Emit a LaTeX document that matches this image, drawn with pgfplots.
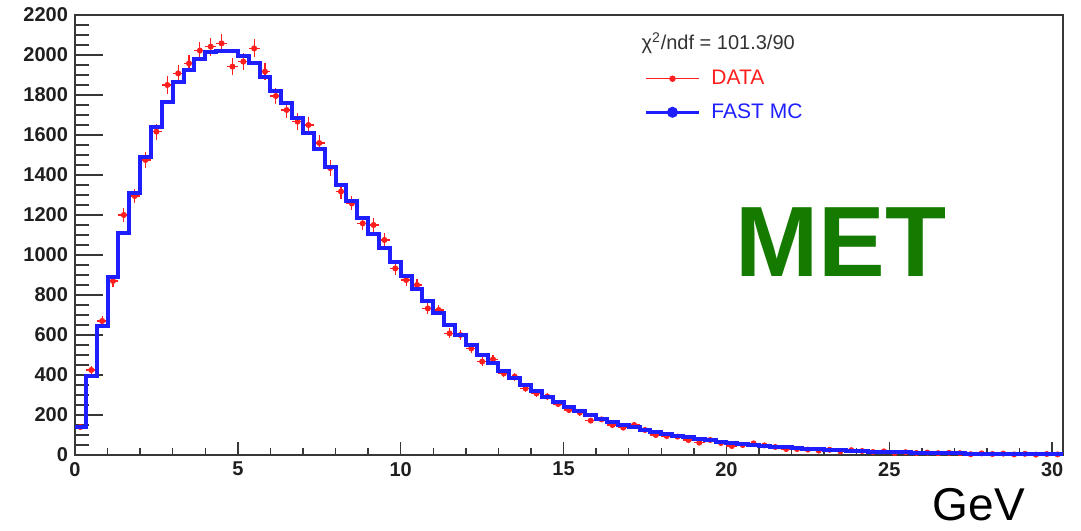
\documentclass[border=0pt]{standalone}
\usepackage{fontspec}
\setmainfont{Liberation Sans}
\usepackage{pgfplots}
\usepackage{pgfplotstable}
\pgfplotsset{compat=1.18}
\definecolor{metgreen}{RGB}{20,122,0}
\definecolor{rootblue}{RGB}{30,30,255}
\definecolor{rootred}{RGB}{255,30,30}
\definecolor{axisgray}{RGB}{55,55,55}

\pgfplotstableread{
x mc data err
0 140 nan 0
0.1667 140 140 12
0.5 395 425 21
0.8333 645 670 26
1.1667 890 870 29
1.5 1112 1200 35
1.8333 1312 1295 36
2.1667 1492 1475 38
2.5 1642 1617 40
2.8333 1767 1850 43
3.1667 1867 1908 44
3.5 1925 1958 44
3.8333 1978 2022 45
4.1667 2017 2042 45
4.5 2022 2058 45
4.8333 2020 1942 44
5.1667 1995 1967 44
5.5 1958 2033 45
5.8333 1890 1917 44
6.1667 1822 1795 42
6.5 1760 1725 42
6.8333 1683 1667 41
7.1667 1608 1650 41
7.5 1528 1560 39
7.8333 1440 1435 38
8.1667 1352 1317 36
8.5 1268 1258 35
8.8333 1185 1158 34
9.1667 1105 1150 34
9.5 1035 1075 33
9.8333 965 933 31
10.1667 895 875 30
10.5 830 850 29
10.8333 770 733 27
11.1667 710 725 27
11.5 652 608 25
11.8333 598 600 24
12.1667 548 533 23
12.5 502 467 22
12.8333 460 478 22
13.1667 420 408 20
13.5 383 392 20
13.8333 350 333 18
14.1667 318 308 18
14.5 290 292 17
14.8333 264 255 16
15.1667 240 225 15
15.5 218 212 15
15.8333 198 172 13
16.1667 180 178 13
16.5 163 150 12
16.8333 148 137 12
17.1667 138 150 12
17.5 126 125 11
17.8333 116 100 10
18.1667 106 95 10
18.5 97 92 10
18.8333 89 75 9
19.1667 81 62 8
19.5 74 75 9
19.8333 67 60 8
20.1667 61 45 7
20.5 56 50 7
20.8333 51 58 8
21.1667 46 48 7
21.5 42 40 6
21.8333 38 30 5.5
22.1667 34 30 5.5
22.5 31 27 5
22.8333 28 22 5
23.1667 25 26 5
23.5 23 18 4
23.8333 21 24 5
24.1667 19 20 4.5
24.5 17 15 4
24.8333 15 18 4
25.1667 14 10 3
25.5 13 14 4
25.8333 12 10 3
26.1667 11 12 3.5
26.5 10 9 3
26.8333 9 11 3.3
27.1667 8 9 3
27.5 7 4 2
27.8333 6.5 8 3
28.1667 6 5 2.2
28.5 5.5 7 2.6
28.8333 5 3 1.7
29.1667 4.5 6 2.4
29.5 4 2 1.4
29.8333 3.7 5 2.2
30.1667 3.4 3 1.7
30.3333 3.4 nan 0
}\met

\begin{document}
\begin{tikzpicture}
\begin{axis}[
  at={(0,0)}, anchor=south west,
  scale only axis, width=494pt, height=220pt,
  xmin=0, xmax=30.3333, ymin=0, ymax=2200,
  clip mode=individual,
  xtick={0,5,...,30}, ytick={0,200,...,2200},
  minor x tick num=4, minor y tick num=3,
  tick align=inside, tick pos=left,
  axis line style={axisgray, line width=0.9pt},
  every tick/.style={axisgray, line width=0.7pt},
  major x tick style={/pgfplots/major tick length=6.5pt},
  minor x tick style={/pgfplots/minor tick length=3.3pt},
  major y tick style={/pgfplots/major tick length=14pt},
  minor y tick style={/pgfplots/minor tick length=7pt},
  /pgf/number format/assume math mode=true,
  scaled y ticks=false,
  yticklabel style={/pgf/number format/1000 sep={}},
  ticklabel style={font=\bfseries\fontsize{10}{12}\selectfont, text=black!88},
  legend style={draw=none, fill=none, at={(rel axis cs:0.576,0.885)}, anchor=north west,
    font=\fontsize{10.5}{12}\selectfont, row sep=4pt, inner sep=0pt},
  legend cell align=left,
]
\addplot[only marks, mark=*, mark size=1.3pt, rootred,
  legend image code/.code={\draw[rootred, line width=0.6pt] (0pt,0pt) -- (26.5pt,0pt); \fill[rootred] (13.25pt,0pt) circle (1.4pt);},
  error bars/.cd, y dir=both, y explicit, x dir=both, x fixed=0.1667,
  error bar style={line width=0.6pt, rootred}, error mark=none]
  table[x=x, y=data, y error=err] {\met};
\addlegendentry{\hspace*{3.5pt}\textcolor{rootred}{DATA}}
\addplot[const plot mark mid, rootblue, line width=2pt, no marks,
  legend image code/.code={\draw[rootblue, line width=1.5pt] (0pt,0pt) -- (26.5pt,0pt); \fill[rootblue] (13.25pt,0pt) circle (1.7pt);}]
  table[x=x, y=mc] {\met};
\addlegendentry{\hspace*{3.5pt}\textcolor{rootblue}{FAST MC}}
\node[anchor=west, inner sep=0pt, text=black!80, font=\fontsize{10}{12}\selectfont]
  at (rel axis cs:0.573,0.936) {χ\textsuperscript{2}/ndf = 101.3/90};
\node[inner sep=0pt, text=metgreen, font=\bfseries\fontsize{50}{50}\selectfont]
  at (rel axis cs:0.775,0.484) {MET};
\node[inner sep=0pt, text=black, font=\fontsize{23}{23}\selectfont]
  at (rel axis cs:0.915,-0.114) {GeV};
\end{axis}
\pgfresetboundingbox
\path[use as bounding box] (-37.5pt,-37.5pt) rectangle (503pt,227.5pt);
\end{tikzpicture}
\end{document}
